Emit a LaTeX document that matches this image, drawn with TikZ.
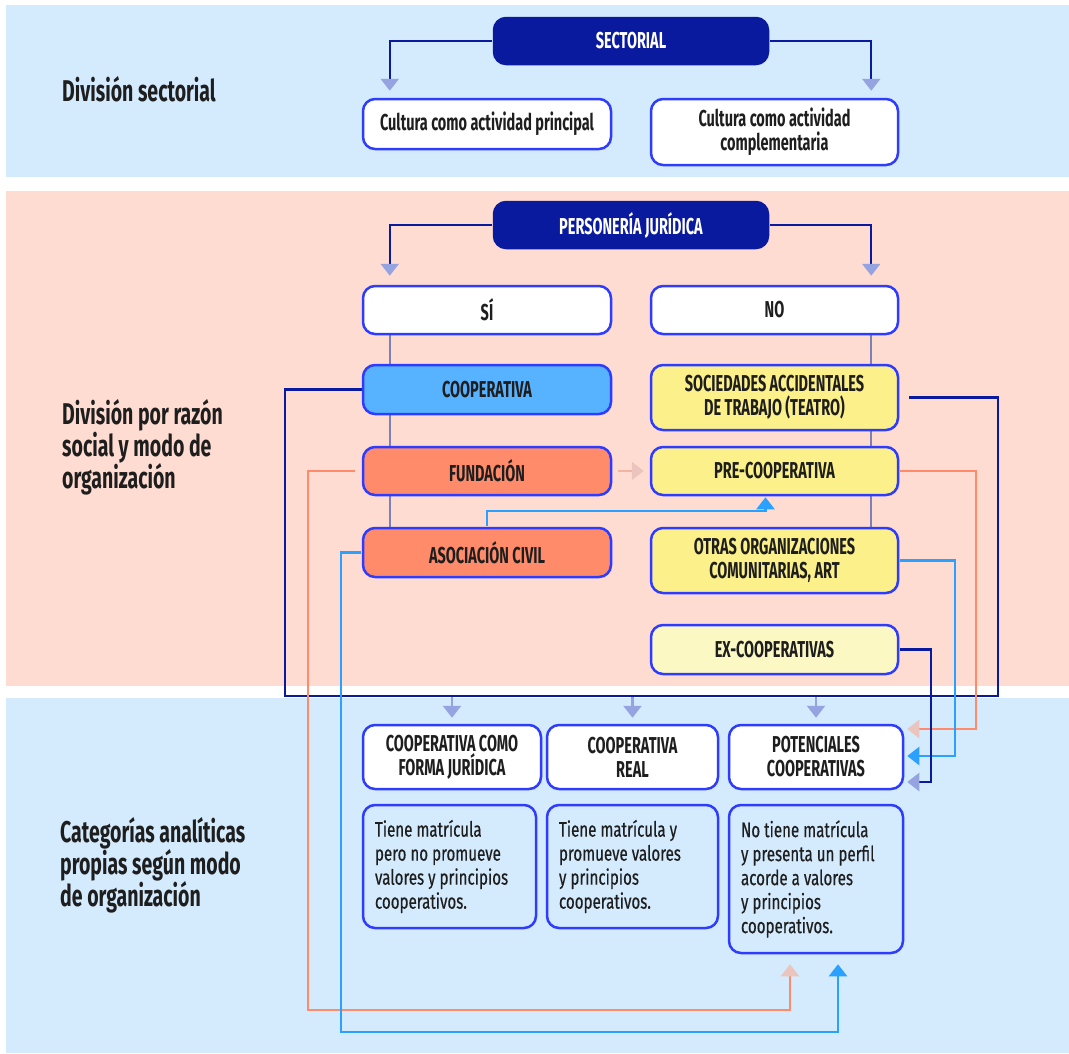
\documentclass[tikz,border=0pt]{standalone}
\usepackage{fontspec}
\setmainfont{Fira Sans}[FakeStretch=0.63]
\newfontfamily\sidefont{Fira Sans}[FakeStretch=0.65]
\newfontfamily\descfont{Fira Sans}[FakeStretch=0.72, FakeBold=0.4]
\usetikzlibrary{arrows.meta,backgrounds}
\definecolor{navy}{HTML}{0A1A9F}
\definecolor{lav}{HTML}{95A4E0}
\definecolor{boxblue}{HTML}{2E3CFF}
\definecolor{coopblue}{HTML}{57B2FF}
\definecolor{salmon}{HTML}{FF8B6A}
\definecolor{salmonpale}{HTML}{EBC4BD}
\definecolor{yel}{HTML}{FBF08A}
\definecolor{yelpale}{HTML}{FCF8C4}
\definecolor{bandblue}{HTML}{D4EAFD}
\definecolor{bandpink}{HTML}{FFDCD1}
\definecolor{skyline}{HTML}{2BA1FF}
\definecolor{linkgray}{HTML}{7E80B5}
\definecolor{ink}{HTML}{1E1E1E}

\begin{document}
\begin{tikzpicture}[x=1pt,y=-1pt,
  box/.style={draw=boxblue, line width=2.5pt, rounded corners=12pt, fill=white, text=ink,
    font=\bfseries\fontsize{23}{24}\selectfont, align=center, inner sep=2pt},
  head/.style={box, draw=navy, fill=navy, text=white, minimum width=274pt, minimum height=46pt},
  desc/.style={box, fill=bandblue, font=\descfont\fontsize{21}{24}\selectfont, align=left, inner xsep=12pt,
    execute at begin node={\spaceskip=4pt\relax}},
  side/.style={anchor=west, inner sep=0pt, align=left, text=ink, font=\sidefont\bfseries\fontsize{30}{32}\selectfont},
  conn/.style={line width=2.4pt, shorten <=1pt},
  navyline/.style={conn, draw=navy, -{Triangle[width=18pt,length=12pt,color=lav]}},
  downline/.style={conn, draw=lav, -{Triangle[width=18pt,length=12pt,color=lav]}, shorten >=6pt},
  salline/.style={conn, draw=salmon, -{Triangle[width=18pt,length=12pt,color=salmonpale]}},
  bluline/.style={conn, draw=skyline, -{Triangle[width=18pt,length=12pt,color=skyline]}},
  link/.style={line width=2.4pt, draw=linkgray}]
\useasboundingbox (0,0) rectangle (1069,1053);

\node[side] (lab1) at (62,89) {División sectorial};
\node[side] (lab2) at (62,447) {División por razón\\social y modo de\\organización};
\node[side] (lab3) at (60,865) {Categorías analíticas\\propias según modo\\de organización};

\node[head] (sect) at (631,41) {SECTORIAL};
\node[box, minimum width=248pt, minimum height=50pt] (cprin) at (487,124) {Cultura como actividad principal};
\node[box, minimum width=247pt, minimum height=66pt] (ccomp) at (774.5,132) {Cultura como actividad\\complementaria};

\node[head] (pers) at (631,225) {PERSONERÍA JURÍDICA};
\node[box, minimum width=248pt, minimum height=48pt] (si) at (487,310) {SÍ};
\node[box, minimum width=247pt, minimum height=48pt] (no) at (774.5,310) {NO};
\node[box, fill=coopblue, minimum width=248pt, minimum height=49pt] (coop) at (487,389.5) {COOPERATIVA};
\node[box, fill=yel, minimum width=247pt, minimum height=65pt] (soc) at (774.5,397.5) {SOCIEDADES ACCIDENTALES\\DE TRABAJO (TEATRO)};
\node[box, fill=salmon, minimum width=248pt, minimum height=48pt] (fund) at (487,471) {FUNDACIÓN};
\node[box, fill=yel, minimum width=247pt, minimum height=48pt] (prec) at (774.5,471) {PRE-COOPERATIVA};
\node[box, fill=salmon, minimum width=248pt, minimum height=49pt] (asoc) at (487,552.5) {ASOCIACIÓN CIVIL};
\node[box, fill=yel, minimum width=247pt, minimum height=65pt] (otras) at (774.5,560.5) {OTRAS ORGANIZACIONES\\COMUNITARIAS, ART};
\node[box, fill=yelpale, minimum width=247pt, minimum height=49pt] (excoop) at (774.5,649.5) {EX-COOPERATIVAS};

\node[box, minimum width=178pt, minimum height=64pt] (cfj) at (452,757) {COOPERATIVA COMO\\FORMA JURÍDICA};
\node[box, minimum width=171pt, minimum height=64pt] (creal) at (632.5,757) {COOPERATIVA\\REAL};
\node[box, minimum width=174pt, minimum height=64pt] (pot) at (816,757) {POTENCIALES\\COOPERATIVAS};
\node[desc, text width=149pt, minimum height=123pt] (dfj) at (449.5,866.5) {Tiene matrícula\\pero no promueve\\valores y principios\\cooperativos.};
\node[desc, text width=147pt, minimum height=123pt] (dreal) at (632.5,866.5) {Tiene matrícula y\\promueve valores\\y principios\\cooperativos.};
\node[desc, text width=150pt, minimum height=148pt] (dpot) at (816,879) {No tiene matrícula\\y presenta un perfil\\acorde a valores\\y principios\\cooperativos.};

\coordinate (lowl) at (285,696);
\coordinate (lowr) at (998,696);
\coordinate (salbot) at (308,1010);
\coordinate (blubot) at (341,1032);

\begin{scope}[on background layer]
\fill[bandblue] (6,5) rectangle (1069,177);
\fill[bandpink] (6,191) rectangle (1069,686);
\fill[bandblue] (6,698) rectangle (1069,1053);

\draw[navyline, shorten >=7pt] (sect.west) -| ([xshift=28pt]cprin.north west);
\draw[navyline, shorten >=7pt] (sect.east) -| ([xshift=-28pt]ccomp.north east);
\draw[navyline, shorten >=9pt] (pers.west) -| ([xshift=28pt]si.north west);
\draw[navyline, shorten >=9pt] (pers.east) -| ([xshift=-28pt]no.north east);

\draw[link] ([xshift=28pt]si.south west) -- ([xshift=28pt]coop.north west);
\draw[link] ([xshift=28pt]coop.south west) -- ([xshift=28pt]fund.north west);
\draw[link] ([xshift=28pt]fund.south west) -- ([xshift=28pt]asoc.north west);
\draw[link] ([xshift=-28pt]no.south east) -- ([xshift=-28pt]soc.north east);
\draw[link] ([xshift=-28pt]soc.south east) -- ([xshift=-28pt]prec.north east);
\draw[link] ([xshift=-28pt]prec.south east) -- ([xshift=-28pt]otras.north east);

\draw[line width=2.4pt, draw=navy] (coop.west) -| (lowl) -- (lowr) |- ([xshift=10pt]soc.east);
\draw[downline] (cfj.north |- lowl) -- (cfj.north);
\draw[downline] (creal.north |- lowl) -- (creal.north);
\draw[downline] (pot.north |- lowl) -- (pot.north);

\draw[salline, draw=salmonpale!70!salmon, shorten <=6pt, shorten >=6pt] (fund.east) -- (prec.west);
\draw[bluline, shorten >=1pt] (asoc.north) -- ++(0,-16) -| ([xshift=-9pt]prec.south);

\draw[salline, shorten <=7pt, shorten >=10pt] (fund.west) -| (salbot) -| ([xshift=-26pt]dpot.south);
\draw[bluline, shorten >=10pt] (asoc.west) -| (blubot) -| ([xshift=22pt]dpot.south);

\draw[salline, shorten >=3pt] (prec.east) -- ++(77,0) |- ([yshift=28pt]pot.east);
\draw[bluline, shorten >=3pt] (otras.east) -- ++(56,0) |- ([yshift=1pt]pot.east);
\draw[navyline, shorten >=3pt] (excoop.east) -- ++(32,0) |- ([yshift=-25pt]pot.east);
\end{scope}
\end{tikzpicture}
\end{document}
